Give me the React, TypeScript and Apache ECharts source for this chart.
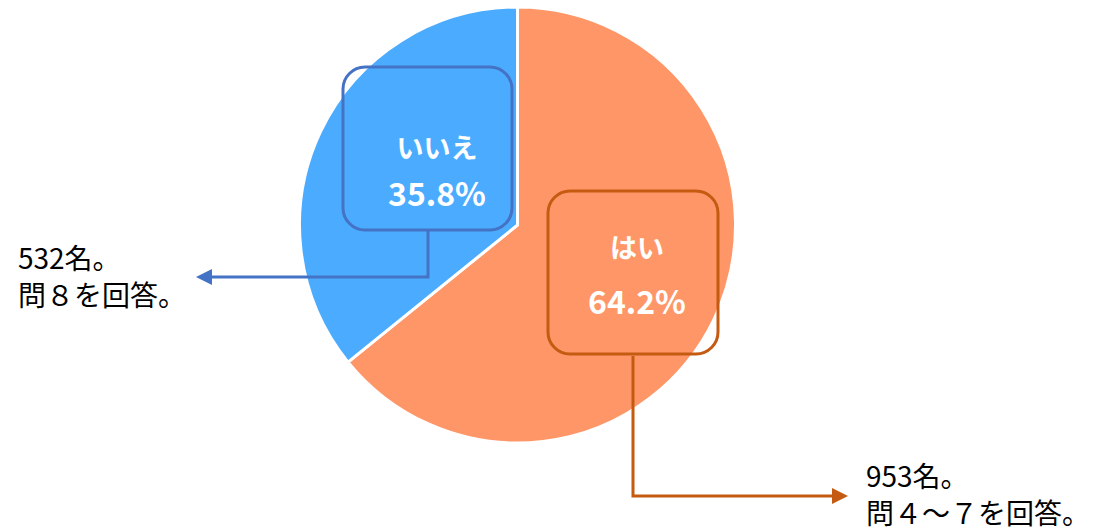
import React, { useEffect, useRef } from "react";
import * as echarts from "echarts";

const categories = ["はい", "いいえ"];
const counts = [953, 532];
const percentLabels = ["64.2%", "35.8%"];
const noteLines = [
  ["953名。", "問４～７を回答。"],
  ["532名。", "問８を回答。"],
];
const sliceColors = ["#FF9668", "#4BACFF"];
const frameColors = ["#C55A11", "#4472C4"];

const FONT = '"Noto Sans CJK JP", "Noto Sans", sans-serif';

export default function App() {
  const ref = useRef<HTMLDivElement>(null);
  useEffect(() => {
    if (!ref.current) return;
    const chart = echarts.init(ref.current, null, { renderer: "svg" });

    const boxes = [
      { x: 548, y: 191, w: 170, h: 163 },
      { x: 343, y: 67, w: 169, h: 163 },
    ];
    const nameY = [246, 146];
    const pctY = [300, 192];
    const textCx = [637, 437];

    const arrows = [
      { pts: [[633, 356], [633, 496], [834, 496]], head: [[832, 488], [848, 496], [832, 504]] },
      { pts: [[428, 230], [428, 277], [210, 277]], head: [[212, 269], [196, 277], [212, 285]] },
    ];
    const notePos = [
      { x: 866, y: 456 },
      { x: 18, y: 238 },
    ];

    const graphics: any[] = [];
    categories.forEach((name, i) => {
      const b = boxes[i];
      graphics.push({
        type: "rect",
        shape: { x: b.x, y: b.y, width: b.w, height: b.h, r: 22 },
        style: { fill: "none", stroke: frameColors[i], lineWidth: 3 },
        z: 10,
      });
      graphics.push({
        type: "text",
        x: textCx[i],
        y: nameY[i],
        style: {
          text: name,
          fill: "#fff",
          font: `bold 27px ${FONT}`,
          textAlign: "center",
          textVerticalAlign: "middle",
        },
        z: 11,
      });
      graphics.push({
        type: "text",
        x: textCx[i],
        y: pctY[i],
        style: {
          text: percentLabels[i],
          fill: "#fff",
          font: `bold 32px ${FONT}`,
          textAlign: "center",
          textVerticalAlign: "middle",
        },
        z: 11,
      });
      const a = arrows[i];
      graphics.push({
        type: "polyline",
        shape: { points: a.pts },
        style: { stroke: frameColors[i], lineWidth: 3, fill: "none" },
        z: 10,
      });
      graphics.push({
        type: "polygon",
        shape: { points: a.head },
        style: { fill: frameColors[i] },
        z: 10,
      });
      graphics.push({
        type: "text",
        x: notePos[i].x,
        y: notePos[i].y,
        style: {
          text: noteLines[i].join("\n"),
          fill: "#000",
          font: `28px ${FONT}`,
          lineHeight: 37,
          textAlign: "left",
          textVerticalAlign: "top",
        },
        z: 11,
      });
    });

    chart.setOption({
      animation: false,
      backgroundColor: "#fff",
      series: [
        {
          type: "pie",
          center: [517.5, 225],
          radius: 218,
          startAngle: 90,
          clockwise: true,
          label: { show: false },
          labelLine: { show: false },
          emphasis: { disabled: true },
          itemStyle: { borderColor: "#fff", borderWidth: 3 },
          data: categories.map((name, i) => ({
            name,
            value: counts[i],
            itemStyle: { color: sliceColors[i] },
          })),
        },
      ],
      graphic: graphics,
    });
    return () => chart.dispose();
  }, []);
  return (
    <div
      ref={ref}
      style={{ position: "fixed", left: 0, top: 0, width: 1098, height: 531 }}
    />
  );
}
